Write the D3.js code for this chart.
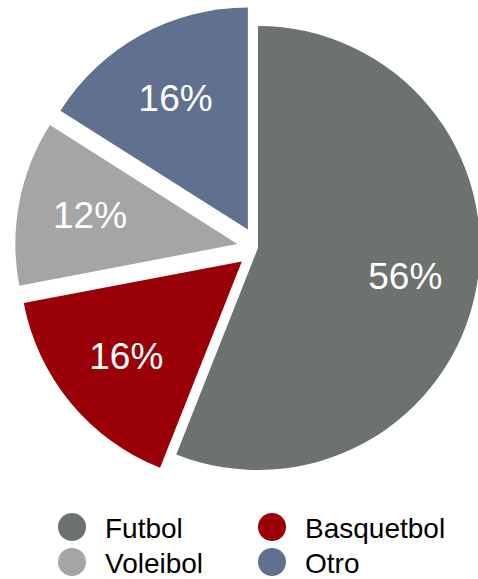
<!DOCTYPE html>
<html><head><meta charset="utf-8">
<script src="https://cdn.jsdelivr.net/npm/d3@7"></script>
<style>html,body{margin:0;padding:0;background:#fff;}svg{display:block;}</style>
</head><body>
<svg id="chart" width="478" height="579"></svg>
<script>
const categories = ["Futbol", "Basquetbol", "Voleibol", "Otro"];
const values = [56, 16, 12, 16];
const labels = ["56%", "16%", "12%", "16%"];
const colors = ["#6c726d", "#990007", "#a5a5a5", "#5f718e"];
const explode = [0, 21, 21, 21];
const legendOrder = ["Futbol", "Basquetbol", "Voleibol", "Otro"];

const svg = d3.select("#chart");
const cx = 258, cy = 248, R = 222, labelR = 150;
const data = categories.map((c, i) => ({cat: c, value: values[i], label: labels[i], color: colors[i], off: explode[i]}));
const pie = d3.pie().sort(null).value(d => d.value).startAngle(0).endAngle(2 * Math.PI);
const arc = d3.arc().innerRadius(0).outerRadius(R);
const arcs = pie(data);

const g = svg.append("g").attr("transform", `translate(${cx},${cy})`);
const slice = g.selectAll("g.slice").data(arcs).join("g").attr("class", "slice")
  .attr("transform", d => {
    const a = (d.startAngle + d.endAngle) / 2;
    return `translate(${Math.sin(a) * d.data.off},${-Math.cos(a) * d.data.off})`;
  });
slice.append("path").attr("d", arc).attr("fill", d => d.data.color);
slice.append("text")
  .attr("x", d => Math.sin((d.startAngle + d.endAngle) / 2) * labelR)
  .attr("y", d => -Math.cos((d.startAngle + d.endAngle) / 2) * labelR)
  .attr("text-anchor", "middle").attr("dominant-baseline", "central")
  .attr("fill", "#fff").attr("font-family", "'Liberation Sans', Arial, sans-serif")
  .attr("font-size", 37).text(d => d.data.label);

// legend
const legX = [72, 272], legY = [527, 562];
const leg = svg.append("g");
legendOrder.forEach((c, i) => {
  const idx = categories.indexOf(c);
  const col = i % 2, row = Math.floor(i / 2);
  leg.append("circle").attr("cx", legX[col]).attr("cy", legY[row]).attr("r", 14).attr("fill", colors[idx]);
  leg.append("text").attr("x", legX[col] + 33).attr("y", legY[row] + 11)
    .attr("font-family", "'Liberation Sans', Arial, sans-serif").attr("font-size", 28)
    .attr("fill", "#000").text(c);
});
</script>
</body></html>
